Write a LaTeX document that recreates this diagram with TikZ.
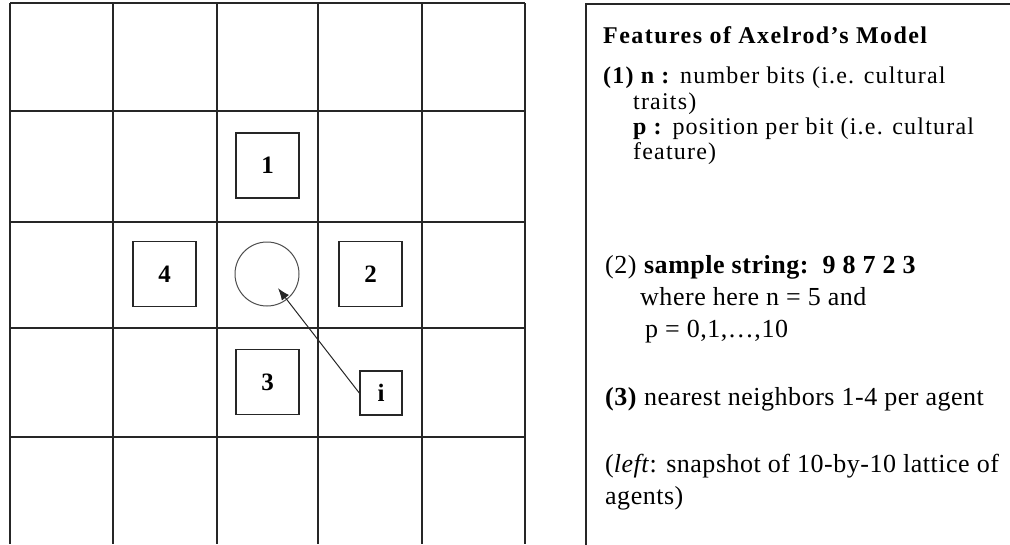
\documentclass[tikz,border=0pt]{standalone}
\usepackage{fontspec}
\setmainfont{Liberation Serif}
\usetikzlibrary{arrows.meta}
\definecolor{gridline}{HTML}{262626}
\definecolor{ringgray}{HTML}{4D4D4D}

\begin{document}
\begin{tikzpicture}[x=1pt, y=-1pt,
    lattice/.style={gridline, line width=1.6pt},
    cellbox/.style={draw=gridline, line width=1.4pt, minimum width=63pt,
      minimum height=65pt, inner sep=0pt,
      font=\fontsize{25}{25}\selectfont\bfseries},
    featuretext/.style={anchor=north west, inner sep=0pt, align=left}]
  \useasboundingbox (0,0) rectangle (1010,544);
  % lattice of 5 by 5 cells
  \foreach \x in {10,113,217,318,422,525}
    \draw[lattice] (\x,3) -- (\x,544);
  \foreach \y in {3,111,222,328,437}
    \draw[lattice] (10,\y) -- (525,\y);
  % the agent and its four neighbours
  \node[circle, draw=ringgray, line width=1pt, minimum size=64pt,
        inner sep=0pt] (agent) at (267,274) {};
  \node[cellbox] (n1) at (267.5,165.5) {1};
  \node[cellbox] (n2) at (370.5,274) {2};
  \node[cellbox] (n3) at (267.5,382) {3};
  \node[cellbox] (n4) at (164.5,274) {4};
  \node[cellbox, minimum width=42pt, minimum height=44pt] (i) at (381,393) {i};
  \draw[-{Latex[length=12pt,width=9pt]}, line width=1pt, gridline,
        shorten >=18pt] (i.west) -- (agent.center);
  % text panel
  \draw[gridline, line width=1.3pt] (1014,4) -- (586,4) -- (586,548);
  \node[featuretext, font=\fontsize{24}{27}\selectfont\bfseries
        \addfontfeature{LetterSpace=6}] (title) at (603,26)
    {Features of Axelrod's Model};
  \node[featuretext, font=\fontsize{24}{25.3}\selectfont
        \addfontfeature{LetterSpace=5}] (feat1) at (603,67)
    {\textbf{(1) n :} number bits (i.e. cultural\\
     \hspace{30pt}traits)\\
     \hspace{30pt}\textbf{p :} position per bit (i.e. cultural\\
     \hspace{30pt}feature)};
  \node[featuretext, font=\fontsize{26}{32}\selectfont
        \addfontfeature{LetterSpace=2}] (feat2) at (605,255)
    {(2) \textbf{sample string:\ \ 9 8 7 2 3}\\
     \hspace{35pt}where here n = 5 and\\
     \hspace{40pt}p = 0,1,…,10};
  \node[featuretext, font=\fontsize{26}{32}\selectfont
        \addfontfeature{LetterSpace=2}] (feat3) at (605,387)
    {\textbf{(3)} nearest neighbors 1-4 per agent};
  \node[featuretext, font=\fontsize{26}{32}\selectfont
        \addfontfeature{LetterSpace=2}] (note) at (605,454)
    {(\textit{left}: snapshot of 10-by-10 lattice of\\
     agents)};
\end{tikzpicture}
\end{document}
